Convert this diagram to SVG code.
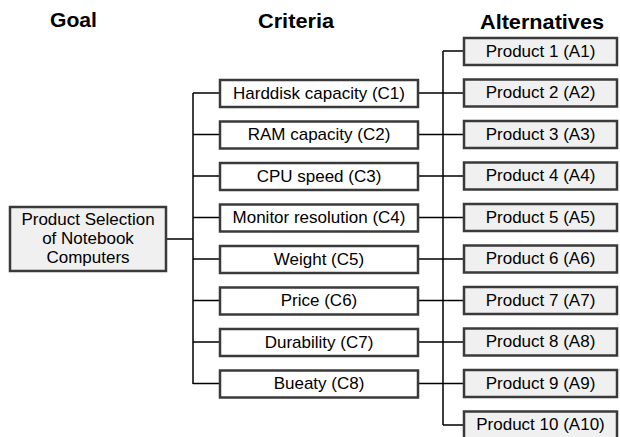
<svg xmlns="http://www.w3.org/2000/svg" width="620" height="437" viewBox="0 0 620 437">
<style>
.h{font-family:"Liberation Sans",Arial,sans-serif;font-weight:bold;font-size:20.5px;fill:#000}
.t{font-family:"Liberation Sans",Arial,sans-serif;font-size:17px;fill:#000;text-anchor:middle}
.c rect{fill:#fff;stroke:#3a3a3a;stroke-width:2.5}
.a rect,.g rect{fill:#f0f0f0;stroke:#3a3a3a;stroke-width:2.5}
.ln{stroke:#000;stroke-width:1.5;fill:none}
</style>
<rect width="620" height="437" fill="#fff"/>
<text class="h" x="50" y="27" textLength="47" lengthAdjust="spacingAndGlyphs">Goal</text>
<text class="h" x="258" y="28" textLength="76" lengthAdjust="spacingAndGlyphs">Criteria</text>
<text class="h" x="480" y="29" textLength="124" lengthAdjust="spacingAndGlyphs">Alternatives</text>
<g id="connectors" class="ln">
<path d="M166,239H193M193,93V384M193,93H220M193,134.5H220M193,176H220M193,217.5H220M193,259H220M193,300.5H220M193,342H220M193,383.5H220"/>
<path d="M443,51V425M443,51H464M443,425H464M418,93H464M418,134.5H464M418,176H464M418,217.5H464M418,259H464M418,300.5H464M418,342H464M418,383.5H464"/>
</g>
<g id="goal" class="g"><rect x="10" y="207" width="156" height="64"/>
<text class="t" x="88" y="225">Product Selection</text><text class="t" x="88" y="244">of Notebook</text><text class="t" x="88" y="263">Computers</text></g>
<g id="c1" class="c"><rect x="220" y="80" width="198" height="27"/><text class="t" x="319" y="98.5">Harddisk capacity (C1)</text></g>
<g id="c2" class="c"><rect x="220" y="121.5" width="198" height="27"/><text class="t" x="319" y="140">RAM capacity (C2)</text></g>
<g id="c3" class="c"><rect x="220" y="163" width="198" height="27"/><text class="t" x="319" y="181.5">CPU speed (C3)</text></g>
<g id="c4" class="c"><rect x="220" y="204.5" width="198" height="27"/><text class="t" x="319" y="223">Monitor resolution (C4)</text></g>
<g id="c5" class="c"><rect x="220" y="246" width="198" height="27"/><text class="t" x="319" y="264.5">Weight (C5)</text></g>
<g id="c6" class="c"><rect x="220" y="287.5" width="198" height="27"/><text class="t" x="319" y="306">Price (C6)</text></g>
<g id="c7" class="c"><rect x="220" y="329" width="198" height="27"/><text class="t" x="319" y="347.5">Durability (C7)</text></g>
<g id="c8" class="c"><rect x="220" y="370.5" width="198" height="27"/><text class="t" x="319" y="389">Bueaty (C8)</text></g>
<g id="a1" class="a"><rect x="464" y="38" width="153" height="27"/><text class="t" x="540.5" y="56.5">Product 1 (A1)</text></g>
<g id="a2" class="a"><rect x="464" y="79.5" width="153" height="27"/><text class="t" x="540.5" y="98">Product 2 (A2)</text></g>
<g id="a3" class="a"><rect x="464" y="121" width="153" height="27"/><text class="t" x="540.5" y="139.5">Product 3 (A3)</text></g>
<g id="a4" class="a"><rect x="464" y="162.5" width="153" height="27"/><text class="t" x="540.5" y="181">Product 4 (A4)</text></g>
<g id="a5" class="a"><rect x="464" y="204" width="153" height="27"/><text class="t" x="540.5" y="222.5">Product 5 (A5)</text></g>
<g id="a6" class="a"><rect x="464" y="245.5" width="153" height="27"/><text class="t" x="540.5" y="264">Product 6 (A6)</text></g>
<g id="a7" class="a"><rect x="464" y="287" width="153" height="27"/><text class="t" x="540.5" y="305.5">Product 7 (A7)</text></g>
<g id="a8" class="a"><rect x="464" y="328.5" width="153" height="27"/><text class="t" x="540.5" y="347">Product 8 (A8)</text></g>
<g id="a9" class="a"><rect x="464" y="370" width="153" height="27"/><text class="t" x="540.5" y="388.5">Product 9 (A9)</text></g>
<g id="a10" class="a"><rect x="464" y="411.5" width="153" height="27"/><text class="t" x="540.5" y="430">Product 10 (A10)</text></g>
</svg>
